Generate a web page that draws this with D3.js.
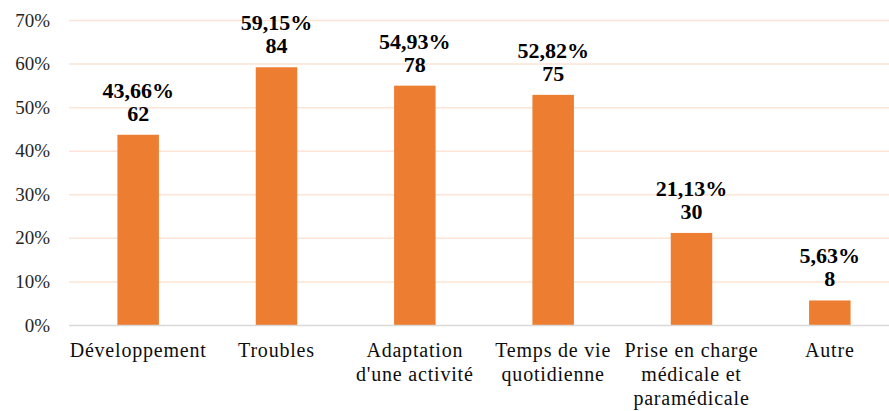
<!DOCTYPE html>
<html>
<head>
<meta charset="utf-8">
<script src="https://cdn.jsdelivr.net/npm/d3@7"></script>
<style>
  body { margin: 0; background: #fff; }
</style>
</head>
<body>
<div id="chart"></div>
<script>
// chart data
var categories = [
	["Développement"],
	["Troubles"],
	["Adaptation", "d'une activité"],
	["Temps de vie", "quotidienne"],
	["Prise en charge", "médicale et", "paramédicale"],
	["Autre"]
];
var percents = [43.66, 59.15, 54.93, 52.82, 21.13, 5.63];
var counts = [62, 84, 78, 75, 30, 8];
var yTicks = [0, 10, 20, 30, 40, 50, 60, 70];

var W = 889, H = 411;
var barColor = "#ED7D31";
var serif = "'Liberation Serif'";

var svg = d3.select("#chart").append("svg")
	.attr("width", W)
	.attr("height", H);

var x = d3.scaleBand()
	.domain(d3.range(categories.length))
	.range([69, 899])
	.paddingInner(0.7)
	.paddingOuter(0.35);

var y = d3.scaleLinear()
	.domain([0, 70])
	.range([325, 20]);

// gridlines
svg.append("g").selectAll("line")
	.data(yTicks.slice(1))
	.enter().append("line")
	.attr("x1", 69).attr("x2", W)
	.attr("y1", function (d) { return y(d) + 0.5; })
	.attr("y2", function (d) { return y(d) + 0.5; })
	.attr("stroke", "#FCE4D6")
	.attr("stroke-width", 1.5);

// y axis labels
var yAxis = d3.axisLeft(y)
	.tickValues(yTicks)
	.tickFormat(function (d) { return d + "%"; })
	.tickSize(0)
	.tickPadding(0);

var ya = svg.append("g")
	.attr("transform", "translate(50,0)")
	.call(yAxis);
ya.select(".domain").remove();
ya.selectAll("text")
	.attr("fill", "#262626")
	.style("font-family", serif)
	.style("font-size", "19px");

// bars
svg.append("g").selectAll("rect")
	.data(percents)
	.enter().append("rect")
	.attr("x", function (d, i) { return x(i); })
	.attr("y", function (d) { return y(d); })
	.attr("width", x.bandwidth())
	.attr("height", function (d) { return y(0) - y(d); })
	.attr("fill", barColor);

// baseline
svg.append("line")
	.attr("x1", 69).attr("x2", W)
	.attr("y1", y(0) + 0.5).attr("y2", y(0) + 0.5)
	.attr("stroke", "#D9D9D9")
	.attr("stroke-width", 1.5);

// data labels
var labels = svg.append("g").selectAll("g")
	.data(percents)
	.enter().append("g")
	.attr("transform", function (d, i) {
		return "translate(" + (x(i) + x.bandwidth() / 2) + "," + y(d) + ")";
	});

labels.append("text")
	.attr("text-anchor", "middle")
	.attr("y", -37)
	.style("font-family", serif)
	.style("font-size", "22px")
	.style("font-weight", "bold")
	.text(function (d) { return d.toFixed(2).replace(".", ",") + "%"; });

labels.append("text")
	.attr("text-anchor", "middle")
	.attr("y", -14)
	.style("font-family", serif)
	.style("font-size", "22px")
	.style("font-weight", "bold")
	.text(function (d, i) { return counts[i]; });

// category labels
var cats = svg.append("g").selectAll("text")
	.data(categories)
	.enter().append("text")
	.attr("text-anchor", "middle")
	.attr("fill", "#0d0d0d")
	.style("font-family", serif)
	.style("font-size", "20px")
	.style("letter-spacing", "0.8px")
	.attr("x", function (d, i) { return x(i) + x.bandwidth() / 2; })
	.attr("y", 357);

cats.selectAll("tspan")
	.data(function (d) { return d; })
	.enter().append("tspan")
	.attr("x", function () { return d3.select(this.parentNode).attr("x"); })
	.attr("dy", function (d, j) { return j === 0 ? 0 : 24; })
	.text(function (d) { return d; });
</script>
</body>
</html>
